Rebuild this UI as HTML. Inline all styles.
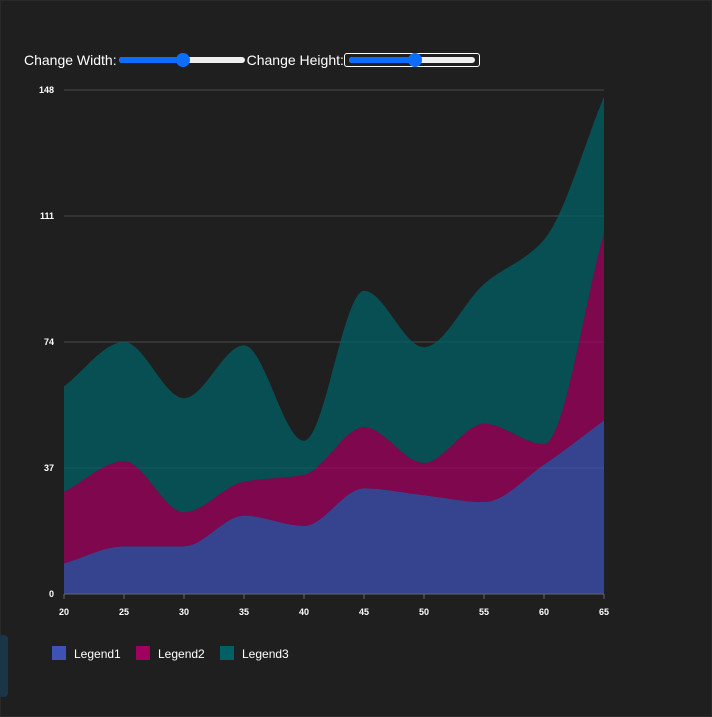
<!DOCTYPE html>
<html><head><meta charset="utf-8"><style>
body{margin:0;width:712px;height:717px;background:#1f1f1f;overflow:hidden;font-family:"Liberation Sans",sans-serif;position:relative}
.frame{position:absolute;left:0;top:0;width:710px;height:715px;border:1px solid #2a2a2a}
.ctrl{position:absolute;top:50px;left:24px;color:#fff;font-size:14px;display:flex;align-items:center;height:20px}
.slider{position:relative;width:126px;height:6px;background:#eee;border-radius:3px;margin:0 2px}
.slider .fill{position:absolute;left:0;top:0;height:6px;background:#0d6efd;border-radius:3px}
.slider .knob{position:absolute;top:-4px;width:14px;height:14px;border-radius:50%;background:#0d6efd}
.box{border:1px solid #fff;border-radius:3px;padding:3px 2px;display:flex;align-items:center}
.side{position:absolute;left:0;top:635px;width:8px;height:62px;background:#1a3547;border-radius:0 4px 4px 0}
</style></head><body>
<div class="frame"></div>
<div class="ctrl">
<span>Change Width:</span>
<div class="slider"><div class="fill" style="width:64px"></div><div class="knob" style="left:57px"></div></div>
<span>Change Height:</span>
<div class="box"><div class="slider"><div class="fill" style="width:66px"></div><div class="knob" style="left:59px"></div></div></div>
</div>
<div class="side"></div>
<svg id="c" width="712" height="717" style="position:absolute;left:0;top:0"></svg>
<script>
const categories=[20,25,30,35,40,45,50,55,60,65];
const legend1=[9,14,14,23,20,31,29,27,38,51];
const legend2=[21,25,10,10,15,18,9.5,23,6,55];
const legend3=[31,35,33.5,40,10,40,34,41,60,40];
const yTicks=[0,37,74,111,148];
const seriesNames=["Legend1","Legend2","Legend3"];
const colors=["#3f51b5","#a0005f","#006064"];
const NS="http://www.w3.org/2000/svg";
const svg=document.getElementById('c');
const x=v=>64+(v-20)*(540/45);
const y=v=>594-v*(504/148);
function mk(t,a){const e=document.createElementNS(NS,t);for(const k in a)e.setAttribute(k,a[k]);svg.appendChild(e);return e;}
function mono(px,py){const n=px.length,d=[],m=[];for(let i=0;i<n-1;i++)d.push((py[i+1]-py[i])/(px[i+1]-px[i]));
m[0]=d[0];m[n-1]=d[n-2];for(let i=1;i<n-1;i++){if(d[i-1]*d[i]<=0)m[i]=0;else{const h0=px[i]-px[i-1],h1=px[i+1]-px[i];m[i]=3*(h0+h1)/((2*h1+h0)/d[i-1]+(h1+2*h0)/d[i]);}}
let s="";for(let i=0;i<n-1;i++){const h=(px[i+1]-px[i])/3;s+=` C${px[i]+h},${py[i]+m[i]*h} ${px[i+1]-h},${py[i+1]-m[i+1]*h} ${px[i+1]},${py[i+1]}`;}return s;}
yTicks.forEach(t=>{const g=mk('line',{x1:64,x2:604,y1:y(t),y2:y(t),stroke:t?'#4a4a4a':'#666','stroke-width':1});

const l=mk('text',{x:54,y:y(t)+3,fill:'#fff','font-size':9,'font-weight':'bold','text-anchor':'end'});l.textContent=t;
});
const data=[legend1,legend2,legend3];let base=categories.map(()=>0);
const px=categories.map(x);
data.forEach((s,k)=>{const top=base.map((b,i)=>b+s[i]);
const ty=top.map(y),by=base.map(y);
const rpx=px.slice().reverse(),rby=by.slice().reverse();
const d=`M${px[0]},${ty[0]}`+mono(px,ty)+` L${rpx[0]},${rby[0]}`+mono(rpx,rby)+'Z';
const p=mk('path',{d:d,fill:colors[k],'fill-opacity':0.75});


base=top;});
mk('line',{x1:64,x2:604,y1:594,y2:594,stroke:'#666'});
categories.forEach(c=>{mk('line',{x1:x(c),x2:x(c),y1:594,y2:599,stroke:'#666'});
const t=mk('text',{x:x(c),y:615,fill:'#fff','font-size':9,'font-weight':'bold','text-anchor':'middle'});t.textContent=c;
});
seriesNames.forEach((n,i)=>{const lx=52+i*84;
const r=mk('rect',{x:lx,y:646,width:14,height:14,fill:colors[i]});

const t=mk('text',{x:lx+22,y:658,fill:'#fff','font-size':12});t.textContent=n;
});
</script>
</body></html>
